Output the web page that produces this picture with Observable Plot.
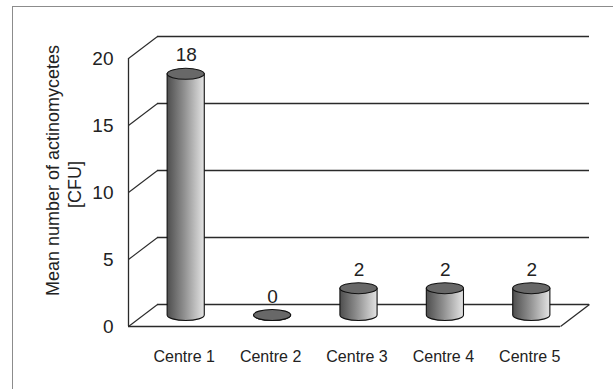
<!DOCTYPE html>
<html>
<head>
<meta charset="utf-8">
<script src="https://cdn.jsdelivr.net/npm/d3@7"></script>
<script src="https://cdn.jsdelivr.net/npm/@observablehq/plot@0.6"></script>
<style>
  html, body { margin: 0; padding: 0; background: #fff; }
  #wrap { position: relative; width: 613px; height: 389px; overflow: hidden; }
  #edge { position: absolute; left: 12px; top: 6px; right: -4px; bottom: -4px;
          border-top: 1.5px solid #8c8c8c; border-left: 1.5px solid #8c8c8c; }
  #chart { position: absolute; left: 0; top: 0; }
</style>
</head>
<body>
<div id="wrap"><div id="edge"></div><div id="chart"></div></div>
<script>
// Mean actinomycete counts per sampling centre
const centres = ["Centre 1", "Centre 2", "Centre 3", "Centre 4", "Centre 5"];
const meanCFU = [18, 0, 2, 2, 2];
const yTicks = [0, 5, 10, 15, 20];
const yTitle = ["Mean number of actinomycetes", "[CFU]"];

const rows = centres.map((centre, i) => ({centre, i, value: meanCFU[i]}));

// Layout of the pseudo-3D box
const W = 613, H = 389;
const M = {top: 58, right: 53, bottom: 63, left: 128};
const DEPTH = {dx: 29, dy: -22};          // oblique depth of the box, px
const ux = centres.length / (W - M.left - M.right);
const uy = 20 / (H - M.top - M.bottom);
const depthX = DEPTH.dx * ux, depthY = -DEPTH.dy * uy;   // same depth in data units

const ink = "#2a2a2a";
const font = "'Liberation Sans', Arial, Helvetica, sans-serif";

// Shaded cylinders standing in the middle of the floor
function cylinders(index, scales) {
  const {x, y} = scales;
  const g = d3.create("svg:g");
  const grad = g.append("defs").append("linearGradient")
    .attr("id", "cyl-shade").attr("x1", 0).attr("x2", 1).attr("y1", 0).attr("y2", 0);
  grad.append("stop").attr("offset", "0%").attr("stop-color", "#4e4e4e");
  grad.append("stop").attr("offset", "45%").attr("stop-color", "#8e8e8e");
  grad.append("stop").attr("offset", "100%").attr("stop-color", "#e4e4e4");
  const rx = (x(1) - x(0)) * 0.215, ry = 5.5;
  for (const d of rows) {
    const cx = x(d.i + 0.5) + DEPTH.dx / 2;
    const cy0 = y(0) + DEPTH.dy / 2;
    const cy1 = y(d.value) + DEPTH.dy / 2;
    g.append("path")
      .attr("d", `M${cx - rx},${cy1}V${cy0}A${rx},${ry} 0 0 0 ${cx + rx},${cy0}V${cy1}Z`)
      .attr("fill", "url(#cyl-shade)")
      .attr("stroke", "#111").attr("stroke-width", 1.1);
    g.append("ellipse")
      .attr("cx", cx).attr("cy", cy1).attr("rx", rx).attr("ry", ry)
      .attr("fill", "#686868")
      .attr("stroke", "#111").attr("stroke-width", 1.1);
  }
  return g.node();
}

const chart = Plot.plot({
  width: W,
  height: H,
  marginTop: M.top,
  marginRight: M.right,
  marginBottom: M.bottom,
  marginLeft: M.left,
  style: {fontFamily: font, background: "transparent", overflow: "visible"},
  x: {domain: [0, centres.length], axis: null},
  y: {domain: [0, 20], axis: null},
  marks: [
    // back wall grid lines (including the back edge of the floor)
    Plot.ruleY(yTicks, {dx: DEPTH.dx, dy: DEPTH.dy, stroke: ink, strokeWidth: 1.3, strokeOpacity: 1}),
    // side wall receding lines at each tick
    Plot.link(yTicks, {x1: 0, y1: d => d, x2: depthX, y2: d => d + depthY, stroke: ink, strokeWidth: 1.1}),
    // front vertical axis
    Plot.ruleX([0], {y1: 0, y2: 20, stroke: ink, strokeWidth: 1.3}),
    // front edge and right edge of the floor
    Plot.ruleY([0], {stroke: ink, strokeWidth: 1.6}),
    Plot.link([0], {x1: centres.length, y1: 0, x2: centres.length + depthX, y2: depthY, stroke: ink, strokeWidth: 1.3}),
    // cylinders
    cylinders,
    // value labels above each cylinder
    Plot.text(rows, {x: d => d.i + 0.5, y: "value", text: d => String(d.value),
      dx: DEPTH.dx / 2, dy: DEPTH.dy / 2 - 19, fontSize: 19, fill: "#222"}),
    // y tick labels
    Plot.text(yTicks, {x: 0, y: d => d, text: d => String(d), textAnchor: "end",
      dx: -15, fontSize: 19, fill: "#222"}),
    // category labels
    Plot.text(rows, {x: d => d.i + 0.5, y: 0, text: "centre",
      dx: DEPTH.dx / 2 - 2, dy: 30, fontSize: 16, fill: "#222"}),
    // y axis title, two lines
    Plot.text([yTitle[0]], {frameAnchor: "left", textAnchor: "middle", text: d => d, rotate: -90,
      dx: -75, dy: -22, fontSize: 18, fill: "#222"}),
    Plot.text([yTitle[1]], {frameAnchor: "left", textAnchor: "middle", text: d => d, rotate: -90,
      dx: -53, dy: -8, fontSize: 18, fill: "#222"})
  ]
});

document.getElementById("chart").appendChild(chart);
</script>
</body>
</html>
